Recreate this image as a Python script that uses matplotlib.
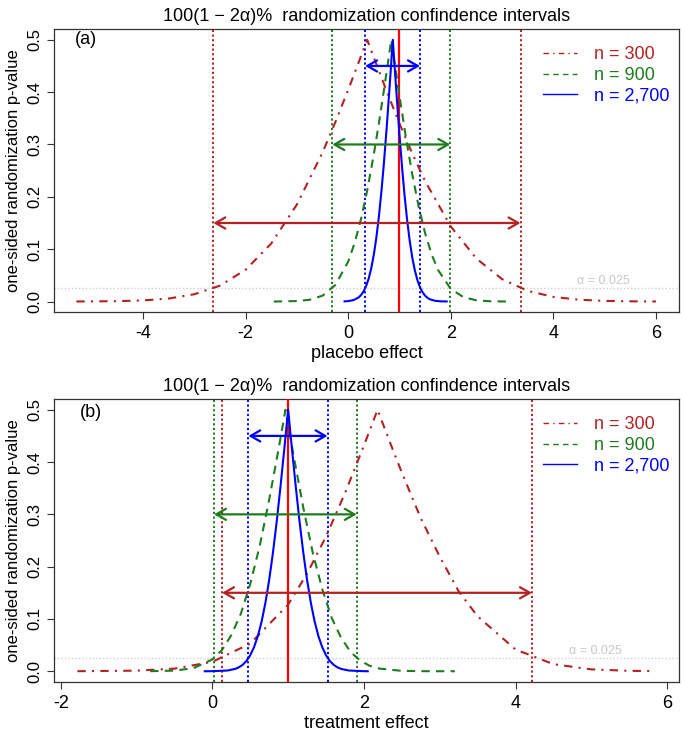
import matplotlib
matplotlib.use("Agg")
import matplotlib.pyplot as plt
from matplotlib.lines import Line2D

plt.rcParams['font.family'] = ['Liberation Sans', 'DejaVu Sans']

# ---------------- data ----------------
title_text = "100(1 \u2212 2\u03b1)%  randomization confindence intervals"
ylabel_text = "one-sided randomization p-value"
legend_labels = ["n = 300", "n = 900", "n = 2,700"]
alpha_level = 0.025
true_value = 1.0

# panel (a): placebo effect
a_x300 = [-5.3, -4.5, -4.0, -3.5, -3.0, -2.5, -2.0, -1.5, -1.0, -0.5, -0.25, 0.0, 0.2, 0.37,
          0.55, 0.75, 1.0, 1.25, 1.5, 2.0, 2.5, 3.0, 3.5, 4.0, 4.5, 5.0, 5.5, 6.0]
a_p300 = [0.0001, 0.0007, 0.0021, 0.0057, 0.0139, 0.0303, 0.0607, 0.1108, 0.1853, 0.2847, 0.3427, 0.4044, 0.4558, 0.5,
          0.4532, 0.402, 0.340, 0.2826, 0.230, 0.1434, 0.082, 0.0428, 0.0204, 0.0088, 0.0035, 0.0012, 0.0004, 0.0001]
a_x900 = [-1.45, -1.0, -0.75, -0.5, -0.25, 0.0, 0.125, 0.25, 0.375, 0.5, 0.6, 0.7, 0.78, 0.84,
          0.9, 1.0, 1.125, 1.25, 1.375, 1.5, 1.625, 1.75, 2.0, 2.25, 2.5, 2.75, 3.1]
a_p900 = [0.0, 0.0009, 0.0034, 0.0112, 0.0317, 0.0762, 0.1116, 0.1574, 0.2142, 0.2812, 0.3413, 0.4057, 0.4593, 0.5,
          0.4593, 0.3926, 0.3137, 0.2425, 0.1811, 0.1305, 0.0906, 0.0606, 0.0241, 0.0082, 0.0023, 0.0006, 0.0]
a_x2700 = [-0.07, 0.0, 0.1, 0.2, 0.25, 0.3, 0.35, 0.4, 0.45, 0.5, 0.55, 0.6, 0.65, 0.7, 0.75, 0.8, 0.84, 0.87,
           0.9, 0.95, 1.0, 1.05, 1.1, 1.15, 1.2, 1.25, 1.3, 1.35, 1.4, 1.45, 1.5, 1.55, 1.6, 1.7, 1.8, 1.92]
a_p2700 = [0.0003, 0.0008, 0.0026, 0.0075, 0.0122, 0.0193, 0.0296, 0.044, 0.0637, 0.0896, 0.1227, 0.1635, 0.2123,
           0.2686, 0.3316, 0.3997, 0.4566, 0.5,
           0.4566, 0.386, 0.3185, 0.257, 0.2019, 0.155, 0.1155, 0.0839, 0.0593, 0.0407, 0.0272, 0.0176, 0.0111,
           0.0068, 0.0040, 0.0013, 0.0004, 0.0001]
a_ci_lo = [-2.63, -0.31, 0.33]
a_ci_hi = [3.36, 1.99, 1.40]

# panel (b): treatment effect
b_x300 = [-1.78, -1.0, -0.5, 0.0, 0.5, 1.0, 1.25, 1.5, 1.75, 2.0, 2.18,
          2.35, 2.5, 2.75, 3.0, 3.25, 3.5, 4.0, 4.5, 5.0, 5.5, 5.82]
b_p300 = [0.0001, 0.0011, 0.0050, 0.018, 0.0529, 0.1274, 0.1867, 0.2576, 0.3405, 0.4316, 0.5,
          0.4353, 0.3798, 0.2928, 0.2192, 0.1529, 0.105, 0.0416, 0.0135, 0.0036, 0.0008, 0.0003]
b_x900 = [-0.82, -0.5, -0.25, 0.0, 0.125, 0.25, 0.375, 0.5, 0.625, 0.75, 0.875, 0.965,
          1.05, 1.2, 1.325, 1.45, 1.575, 1.7, 1.825, 1.95, 2.075, 2.2, 2.5, 2.8, 3.2]
b_p900 = [0.0001, 0.0012, 0.0059, 0.0226, 0.0401, 0.069, 0.1095, 0.167, 0.2394, 0.328, 0.4256, 0.5,
          0.4297, 0.313, 0.2266, 0.157, 0.1019, 0.0637, 0.0366, 0.0205, 0.0104, 0.0052, 0.0007, 0.0001, 0.0]
b_x2700 = [-0.1, 0.0, 0.2, 0.3, 0.35, 0.4, 0.45, 0.5, 0.55, 0.6, 0.65, 0.7, 0.75, 0.8, 0.85, 0.9, 0.95, 1.0,
           1.05, 1.1, 1.15, 1.2, 1.25, 1.3, 1.35, 1.4, 1.45, 1.5, 1.55, 1.6, 1.65, 1.7, 1.8, 2.0, 2.05]
b_p2700 = [0.0, 0.0001, 0.0014, 0.0044, 0.0075, 0.0123, 0.0197, 0.0306, 0.046, 0.067, 0.0949, 0.1306, 0.1746,
           0.2269, 0.2871, 0.354, 0.4258, 0.5,
           0.4258, 0.354, 0.2871, 0.2269, 0.1746, 0.1306, 0.0949, 0.067, 0.046, 0.0306, 0.0197, 0.0123, 0.0075,
           0.0044, 0.0014, 0.0001, 0.0]
b_ci_lo = [0.128, 0.022, 0.475]
b_ci_hi = [4.217, 1.905, 1.52]

arrow_y = [0.15, 0.30, 0.45]
a_xticks = [-4, -2, 0, 2, 4, 6]
b_xticks = [-2, 0, 2, 4, 6]
yticks = [0.0, 0.1, 0.2, 0.3, 0.4, 0.5]

# ---------------- styles ----------------
colors = ['#B22222', '#1E7B1E', '#0000FF']
styles = [(0, (4, 3, 1, 3)), (0, (4, 3)), '-']
dotted = (0, (1.1, 1.3))
HFS = 13   # horizontal text size
VFS = 12   # vertical text size

W, H = 685, 735
fig = plt.figure(figsize=(W / 100, H / 100), dpi=100)

def frac(l, t, r, b):
    return [l / W, 1 - b / H, (r - l) / W, (b - t) / H]

panels = [
    dict(rect=frac(54.3, 29.3, 679, 312), xlim=(-5.73, 6.45), xticks=a_xticks,
         xs=[a_x300, a_x900, a_x2700], ps=[a_p300, a_p900, a_p2700],
         lo=a_ci_lo, hi=a_ci_hi, xlabel="placebo effect", tag="(a)", tagx=-5.11, tagy=0.5,
         alx=4.98, xlab_y=-0.146),
    dict(rect=frac(54.3, 399.3, 679, 681.7), xlim=(-2.085, 6.157), xticks=b_xticks,
         xs=[b_x300, b_x900, b_x2700], ps=[b_p300, b_p900, b_p2700],
         lo=b_ci_lo, hi=b_ci_hi, xlabel="treatment effect", tag="(b)", tagx=-1.60, tagy=0.495,
         alx=5.05, xlab_y=-0.148),
]

for P in panels:
    ax = fig.add_axes(P['rect'])
    ax.set_xlim(*P['xlim'])
    ax.set_ylim(-0.02, 0.52)
    # alpha reference line
    ax.axhline(alpha_level, color='#D0D0D0', lw=1.0, ls=(0, (1, 1.5)), zorder=1)
    ax.text(P['alx'], 0.0387, "\u03b1 = 0.025", color='#C8C8C8', fontsize=9,
            ha='center', va='center')
    # CI vertical lines
    for lo, hi, c in zip(P['lo'], P['hi'], colors):
        ax.axvline(lo, color=c, lw=1.4, ls=dotted, zorder=2)
        ax.axvline(hi, color=c, lw=1.4, ls=dotted, zorder=2)
    # true value
    ax.axvline(true_value, color='#FF0000', lw=1.6, zorder=3)
    # curves
    for x, p, c, s in zip(P['xs'], P['ps'], colors, styles):
        ax.plot(x, p, color=c, lw=1.5, ls=s, zorder=4)
    # arrows
    for lo, hi, yv, c in zip(P['lo'], P['hi'], arrow_y, colors):
        ax.annotate('', xy=(hi, yv), xytext=(lo, yv),
                    arrowprops=dict(arrowstyle='<->,head_length=0.35,head_width=0.2',
                                    color=c, lw=1.6, shrinkA=0, shrinkB=0,
                                    mutation_scale=20), zorder=5)
    ax.text(P['tagx'], P['tagy'], P['tag'], fontsize=HFS, ha='center', va='center')
    # axes cosmetics
    ax.set_xticks(P['xticks'])
    ax.set_xticklabels([str(t) for t in P['xticks']], fontsize=HFS)
    ax.set_yticks(yticks)
    ax.set_yticklabels([f"{t:.1f}" for t in yticks], rotation=90, va='center', fontsize=VFS)
    ax.tick_params(axis='both', length=5.3, width=0.8, color='#333333')
    ax.tick_params(axis='x', pad=4.3)
    ax.tick_params(axis='y', pad=3.5)
    for sp in ax.spines.values():
        sp.set_color('#333333')
        sp.set_linewidth(0.9)
    ax.set_xlabel(P['xlabel'], fontsize=HFS, va='center')
    ax.xaxis.set_label_coords(0.5, P['xlab_y'])
    ax.set_ylabel(ylabel_text, fontsize=VFS, va='center')
    ax.yaxis.set_label_coords(-0.065, 0.5)
    ax.set_title(title_text, fontsize=HFS, pad=6)
    # legend
    handles = [Line2D([0], [0], color=c, lw=1.0, ls=s) for c, s in zip(colors, styles)]
    ax.legend(handles, legend_labels, loc='upper left', bbox_to_anchor=(0.782, 0.94),
              frameon=False, fontsize=HFS, labelcolor=colors, handlelength=1.9,
              handletextpad=0.95, labelspacing=0.2, borderpad=0, borderaxespad=0)

fig.savefig("out.png", dpi=100)
